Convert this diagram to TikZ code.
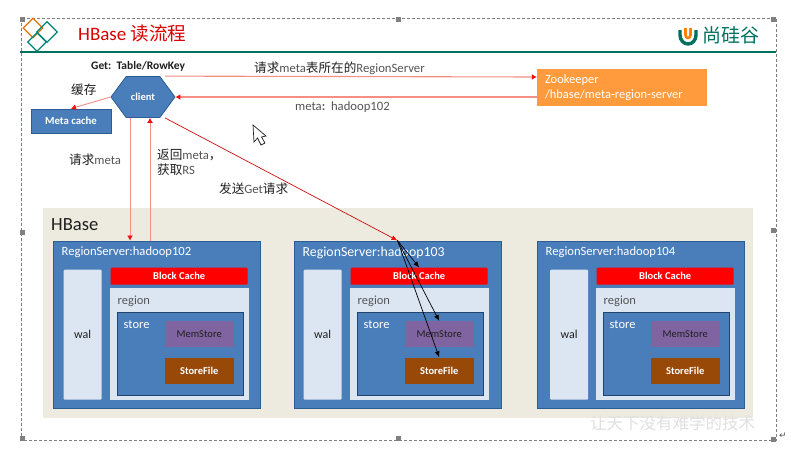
\documentclass[tikz,border=0pt]{standalone}
\usepackage{fontspec}
\usepackage{xcolor}
\usepackage{tikz}
\usetikzlibrary{arrows.meta,positioning,shapes.geometric,shapes.symbols}
\setmainfont{Carlito}
\newfontfamily\cjk{Noto Sans CJK SC}
\newfontfamily\symb{DejaVu Sans}
\newcommand{\zh}[1]{{\cjk\color{ink}\fontsize{12.6}{15}\selectfont #1}}
\definecolor{ink}{HTML}{1F1F1F}
\definecolor{soft}{HTML}{555555}
\definecolor{teal}{HTML}{00705F}
\definecolor{blue}{HTML}{4A7EBB}
\definecolor{edge}{HTML}{2C5C92}
\definecolor{pale}{HTML}{DCE6F2}
\definecolor{sand}{HTML}{EDEBE0}
\definecolor{amber}{HTML}{FF9A3D}
\definecolor{plum}{HTML}{8064A2}
\definecolor{rust}{HTML}{984807}
\definecolor{salmon}{HTML}{F58E84}
\definecolor{tipred}{HTML}{F01010}

\begin{document}
\begin{tikzpicture}[
  x=1pt,y=-1pt,
  innerbox/.style={inner sep=0pt,minimum width=#1},
  rsbox/.style={draw=edge,line width=1pt,fill=blue,innerbox=207pt,minimum height=167pt,
    label={[anchor=north west,inner sep=0pt,xshift=9pt,yshift=-6pt,text=white,font=\fontsize{12.6}{14}\selectfont]north west:#1}},
  walbox/.style={fill=pale,rounded corners=1pt,innerbox=38pt,minimum height=130pt,text=ink,font=\fontsize{12}{14}\selectfont},
  cachebox/.style={fill=red,rounded corners=1pt,innerbox=137pt,minimum height=17pt,text=white,font=\bfseries\fontsize{10.5}{12}\selectfont},
  regionbox/.style={fill=pale,innerbox=139pt,minimum height=112pt,
    label={[anchor=north west,inner sep=0pt,xshift=8pt,yshift=-7.5pt,text=soft,font=\fontsize{12.5}{14}\selectfont]north west:region}},
  storebox/.style={draw=edge!75!black,line width=1pt,fill=blue,innerbox=126pt,minimum height=83pt,
    label={[anchor=north west,inner sep=0pt,xshift=7pt,yshift=-8pt,text=white,font=\fontsize{12.5}{14}\selectfont]north west:store}},
  membox/.style={fill=plum,innerbox=69pt,minimum height=26pt,text=ink,font=\fontsize{10.5}{12}\selectfont},
  filebox/.style={fill=rust,innerbox=69pt,minimum height=26pt,text=white,font=\bfseries\fontsize{10.5}{12}\selectfont},
  note/.style={inner sep=0pt,text=soft,font=\fontsize{12.7}{15}\selectfont,align=left},
  arrow/.style={-{Latex[length=5pt,width=6pt,color=tipred]},draw=salmon,line width=1.1pt},
  thinarrow/.style={-{Latex[length=6pt,width=5pt,color=tipred]},draw=tipred!85!black,line width=.7pt},
  inarrow/.style={-{Latex[length=6pt,width=5pt]},draw=black,line width=.7pt},
  logo/.style={diamond,draw,line width=1.2pt,inner sep=0pt,aspect=1}
]
\useasboundingbox (0,0) rectangle (801,451);
\fill[white!99!sand] (0,0) rectangle (801,451);
% frame and title bar
\draw[gray,densely dashed,line width=.8pt] (21,18) rectangle (776,440);
\foreach \hx/\hy in {22/19,398/19,773/19,22/232,773/230,22/438,398/438,773/439}
  \fill[gray] (\hx-2.5,\hy-2.5) rectangle (\hx+2.5,\hy+2.5);
\draw[teal,line width=2pt] (20,52)--(776,52);
\node[logo,draw=orange!90!black,minimum size=20pt] (mark1) at (33,28) {};
\node[logo,draw=teal!85!cyan,minimum size=21pt] (mark2) at (47,32) {};
\node[logo,draw=teal!85!cyan,minimum size=19pt] (mark3) at (37,42) {};
\node[inner sep=0pt,anchor=west,text=red!85!black,font=\fontsize{19}{20}\selectfont] (title) at (78,33) {HBase {\cjk\fontsize{18.6}{20}\selectfont 读流程}};
\draw[teal,line width=3.4pt] (680,30) -- (680,35) arc[start angle=180,end angle=360,x radius=8pt,y radius=9pt] -- (696,30);
\draw[orange,line width=2.6pt] (685.5,28) -- (685.5,35) arc[start angle=180,end angle=360,x radius=2.5pt,y radius=3pt] -- (690.5,28);
\node[inner sep=0pt,anchor=west,text=teal,font=\cjk\fontsize{19}{22}\selectfont] (brand) at (702,35) {尚硅谷};
% client side
\node[signal,signal to=east and west,signal pointer angle=107,fill=blue,draw=edge,line width=.8pt,inner sep=0pt,
  minimum width=64pt,minimum height=41pt,text=white,font=\bfseries\fontsize{10.5}{12}\selectfont] (client) at (143,97) {client};
\node[fill=blue,draw=edge,line width=.8pt,inner sep=0pt,minimum width=80pt,minimum height=24pt,text=white,
  font=\bfseries\fontsize{10.8}{12}\selectfont] (meta) at (71,121) {Meta cache};
\node[fill=amber,inner sep=0pt,minimum width=170pt,minimum height=37pt,text=white,align=left,text width=154pt,
  font=\fontsize{12.5}{15}\selectfont] (zk) at (622,87.5) {Zookeeper\\/hbase/meta-region-server};
% hbase
\node[fill=sand,inner sep=0pt,minimum width=710pt,minimum height=210pt] (hbase) at (398,313) {};
\node[inner sep=0pt,anchor=west,text=ink,font=\fontsize{18.6}{20}\selectfont] (hbasetext) at (51,225) {HBase};
\node[rsbox={RegionServer:hadoop102}] (rs1) at (156.5,324.5) {};
\node[walbox,below right=29pt and 11pt of rs1.north west] (wal1) {wal};
\node[cachebox,below right=27pt and 58pt of rs1.north west] (cache1) {Block Cache};
\node[regionbox,below=3pt of cache1] (region1) {};
\node[storebox,below right=24pt and 7pt of region1.north west] (store1) {};
\node[membox,below right=9pt and 48pt of store1.north west] (mem1) {MemStore};
\node[filebox,below=10pt of mem1] (file1) {StoreFile};
\node[rsbox={\fontsize{13.8}{15}\selectfont RegionServer:hadoop103},right=33pt of rs1] (rs2) {};
\node[walbox,below right=29pt and 10pt of rs2.north west] (wal2) {wal};
\node[cachebox,below right=27pt and 57pt of rs2.north west] (cache2) {Block Cache};
\node[regionbox,below=3pt of cache2] (region2) {};
\node[storebox,below right=24pt and 7pt of region2.north west] (store2) {};
\node[membox,below right=9pt and 48pt of store2.north west] (mem2) {MemStore};
\node[filebox,below=10pt of mem2] (file2) {StoreFile};
\node[rsbox={RegionServer:hadoop104},right=35pt of rs2] (rs3) {};
\node[walbox,below right=29pt and 13.5pt of rs3.north west] (wal3) {wal};
\node[cachebox,below right=27pt and 60pt of rs3.north west] (cache3) {Block Cache};
\node[regionbox,below=3pt of cache3] (region3) {};
\node[storebox,below right=24pt and 7pt of region3.north west] (store3) {};
\node[membox,below right=9pt and 48pt of store3.north west] (mem3) {MemStore};
\node[filebox,below=10pt of mem3] (file3) {StoreFile};
% connectors
\draw[arrow] ([xshift=22pt]client.north)--([yshift=10.5pt]zk.west);
\draw[arrow] ([yshift=-9.5pt]zk.west)--(client.east);
\draw[arrow,line width=.9pt] (client.west)--(meta.north);
\draw[arrow,line width=.9pt] ([xshift=-13pt]client.south)--([xshift=-26.5pt]rs1.north);
\draw[arrow,line width=.9pt] ([xshift=-6.5pt]rs1.north)--([xshift=7pt]client.south);
\draw[thinarrow] ([xshift=22pt]client.south)--(rs2.north);
\draw[inarrow] (rs2.north)--(cache2.north);
\draw[inarrow] (rs2.north)--(mem2.north);
\draw[inarrow] (rs2.north)--(file2.north);
% labels
\node[note,anchor=west,text=ink,font=\bfseries\fontsize{11.5}{13}\selectfont] (getkey) at (91,66) {Get:\ \ Table/RowKey};
\node[note,anchor=west] (ask) at (254,68) {\zh{请求}meta\zh{表所在的}RegionServer};
\node[note,anchor=west] (answer) at (295,107) {meta\textbf{:}\ \ hadoop102};
\node[note,anchor=west] (keep) at (71,90) {\zh{缓存}};
\node[note,anchor=west] (askmeta) at (69,160) {\zh{请求}meta};
\node[note,anchor=west] (back) at (157,162) {\zh{返回}meta\zh{，}\\\zh{获取}RS};
\node[note,anchor=west] (send) at (219,189) {\zh{发送}Get\zh{请求}};
\node[inner sep=0pt,anchor=west,text=black!12,font=\cjk\fontsize{16.5}{18}\selectfont] (motto) at (590,423) {让天下没有难学的技术};
\node[inner sep=0pt,anchor=west,text=soft,font=\symb\fontsize{9}{10}\selectfont] (enter) at (779,436) {↵};
% pointer
\draw[ink,fill=white,line width=.7pt] (253,125)--(254,142)--(257.5,138)--(261,145)--(265,143)--(261.5,137)--(266,136)--cycle;
\end{tikzpicture}
\end{document}
